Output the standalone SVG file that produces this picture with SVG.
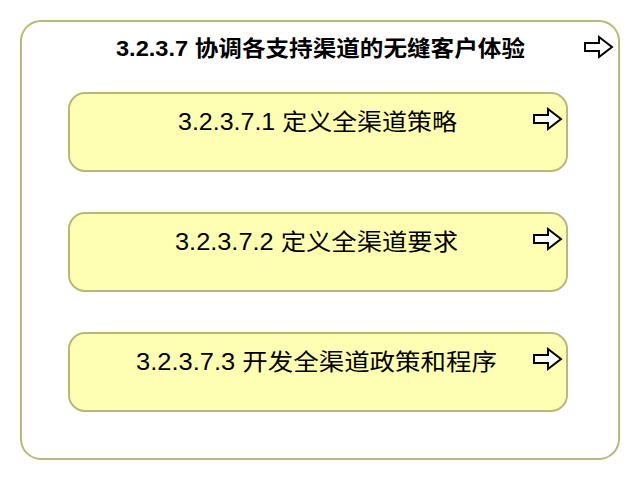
<svg xmlns="http://www.w3.org/2000/svg" width="640" height="480" viewBox="0 0 640 480">
<style>
.outer{fill:#ffffff;stroke:#b8b87a;stroke-width:2}
.inner{fill:#ffffb3;stroke:#b8b87a;stroke-width:2}
.arr{fill:#ffffff;stroke:#000000;stroke-width:2;stroke-linejoin:miter}
.t{font-family:"Liberation Sans","Noto Sans CJK SC",sans-serif;fill:#000;text-anchor:middle}
</style>
<defs>
<path id="ar" d="M0,-4 H14 V-10 L27,0 L14,10 V4 H0 Z"/>
</defs>
<g id="outer">
<rect class="outer" x="21" y="21" width="598" height="438" rx="20"/>
<text class="t" x="320.5" y="56" font-size="22" font-weight="bold" textLength="409" lengthAdjust="spacingAndGlyphs">3.2.3.7 协调各支持渠道的无缝客户体验</text>
<use href="#ar" class="arr" x="585" y="47"/>
</g>
<g id="n1">
<rect class="inner" x="69" y="93" width="498" height="78" rx="16"/>
<text class="t" x="317.5" y="130" font-size="23" textLength="279" lengthAdjust="spacingAndGlyphs">3.2.3.7.1 定义全渠道策略</text>
<use href="#ar" class="arr" x="534" y="119"/>
</g>
<g id="n2">
<rect class="inner" x="69" y="213" width="498" height="78" rx="16"/>
<text class="t" x="316.5" y="250" font-size="23" textLength="283" lengthAdjust="spacingAndGlyphs">3.2.3.7.2 定义全渠道要求</text>
<use href="#ar" class="arr" x="534" y="239"/>
</g>
<g id="n3">
<rect class="inner" x="69" y="333" width="498" height="78" rx="16"/>
<text class="t" x="316.5" y="370" font-size="23" textLength="361" lengthAdjust="spacingAndGlyphs">3.2.3.7.3 开发全渠道政策和程序</text>
<use href="#ar" class="arr" x="534" y="359"/>
</g>
<g id="connectors"></g>
</svg>
